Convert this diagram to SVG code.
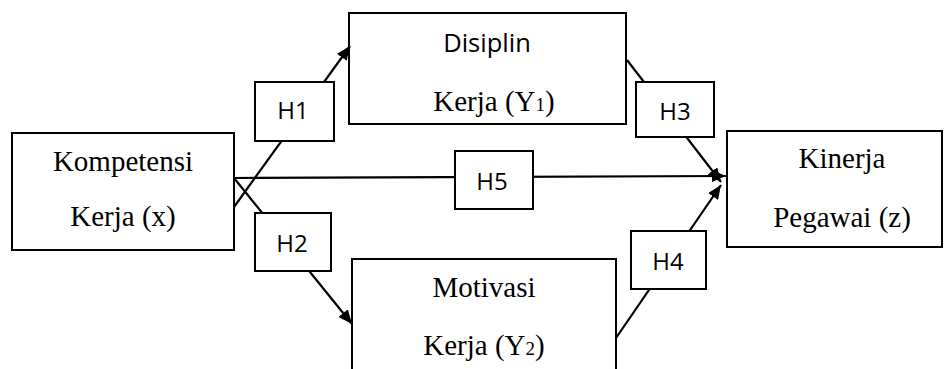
<svg xmlns="http://www.w3.org/2000/svg" width="944" height="369" viewBox="0 0 944 369">
  <defs>
    <marker id="arr" markerUnits="userSpaceOnUse" markerWidth="14" markerHeight="12" refX="14" refY="6" orient="auto">
      <path d="M0,0 L14,6 L0,12 z" fill="#000"/>
    </marker>
  </defs>
  <style>
    .box { fill: #fff; stroke: #000; stroke-width: 2; }
    .lbl { fill: #fff; stroke: #000; stroke-width: 2; }
    .serif { font-family: "Liberation Serif", "Times New Roman", serif; font-size: 29px; fill: #000; text-anchor: middle; }
    .sans { font-family: "Open Sans", "Noto Sans", sans-serif; fill: #000; text-anchor: middle; }
    .h { font-size: 24px; }
    .conn { stroke: #000; stroke-width: 2.2; fill: none; marker-end: url(#arr); }
  </style>
  <rect width="944" height="369" fill="#fff"/>

  <g id="kompetensi">
    <rect class="box" x="12" y="133" width="222" height="117"/>
    <text class="serif" x="123" y="171">Kompetensi</text>
    <text class="serif" x="123" y="226">Kerja (x)</text>
  </g>
  <g id="disiplin">
    <rect class="box" x="349" y="13" width="277" height="111"/>
    <text class="sans" x="487" y="52" font-size="25.5">Disiplin</text>
    <text class="serif" x="494" y="111">Kerja (Y<tspan font-size="19">1</tspan>)</text>
  </g>
  <g id="kinerja">
    <rect class="box" x="727" y="131" width="215" height="116"/>
    <text class="serif" x="842" y="168">Kinerja</text>
    <text class="serif" x="842" y="227">Pegawai (z)</text>
  </g>
  <g id="motivasi">
    <rect class="box" x="352" y="259" width="264" height="130"/>
    <text class="serif" x="484" y="297">Motivasi</text>
    <text class="serif" x="484" y="355">Kerja (Y<tspan font-size="19">2</tspan>)</text>
  </g>

  <g id="connectors">
    <path class="conn" d="M234,207 L350,46"/>
    <path class="conn" d="M234,178 L352,324"/>
    <path class="conn" d="M234,178 L726,176"/>
    <path class="conn" d="M627,60 L721,182"/>
    <path class="conn" d="M616,338 L721,185"/>
  </g>

  <g id="h1">
    <rect class="lbl" x="255" y="82" width="79" height="59"/>
    <text class="sans h" x="293" y="119">H1</text>
  </g>
  <g id="h2">
    <rect class="lbl" x="255" y="213" width="76" height="58"/>
    <text class="sans h" x="292" y="252">H2</text>
  </g>
  <g id="h3">
    <rect class="lbl" x="636" y="82" width="78" height="55"/>
    <text class="sans h" x="675" y="120">H3</text>
  </g>
  <g id="h4">
    <rect class="lbl" x="631" y="231" width="75" height="58"/>
    <text class="sans h" x="668" y="270">H4</text>
  </g>
  <g id="h5">
    <rect class="lbl" x="455" y="151" width="78" height="58"/>
    <text class="sans h" x="492" y="190">H5</text>
  </g>
</svg>
